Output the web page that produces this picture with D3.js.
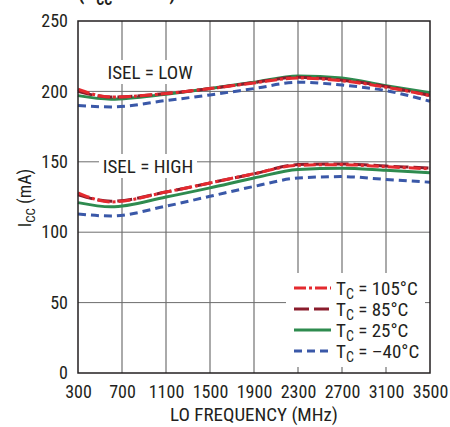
<!DOCTYPE html>
<html><head><meta charset="utf-8">
<script src="https://cdn.jsdelivr.net/npm/d3@7"></script>
<style>
body{margin:0;background:#fff;}
text{font-family:"Liberation Sans Narrow","Roboto Condensed","Arial Narrow","Liberation Sans",sans-serif;fill:#231f20;}
</style></head>
<body><svg id="c" width="450" height="427"></svg>
<script>
const freqs = [300, 600, 1100, 1500, 1900, 2300, 2700, 3100, 3500];
const xTicks = [300, 700, 1100, 1500, 1900, 2300, 2700, 3100, 3500];
const yTicks = [0, 50, 100, 150, 200, 250];
const seriesNames = ["105°C", "85°C", "25°C", "–40°C"];
// ISEL = LOW
const low105 = [201.5, 196, 198.5, 202, 206, 209.5, 207.5, 203, 197];
const low85  = [200, 196, 198.5, 202, 206.3, 210, 208, 203.5, 197];
const low25  = [197, 194.5, 198, 202, 206.5, 211, 209.5, 204, 199];
const lowM40 = [190, 189, 193.5, 197.5, 202, 206.5, 204.5, 200.5, 193];
// ISEL = HIGH
const high105 = [128, 121.5, 128.5, 135, 141.5, 147.5, 148, 146.5, 145];
const high85  = [126.5, 122, 128.5, 135, 141.5, 148, 148.5, 147, 145.5];
const high25  = [121, 118, 125, 131.5, 138.5, 144.5, 145.5, 144, 142.3];
const highM40 = [113, 111.5, 118.5, 125.5, 132.5, 138.5, 139.5, 137.5, 135.5];

const colors = ["#e42a2f", "#8a1c2c", "#2e8b4f", "#3a58a8"];
const dashes = ["12,3,3,3", "15,5", null, "8,5"];

const svg = d3.select("#c");
const L = 78, R = 430, T = 21, B = 373;
const x = d3.scaleLinear().domain([300, 3500]).range([L, R]);
const y = d3.scaleLinear().domain([0, 250]).range([B, T]);

// title fragment (cut off at top, as in the reference)
const ttl = svg.append("text").attr("x", 78).attr("y", 0)
  .style("font-weight", "bold").style("font-size", "20px");
ttl.append("tspan").text("(V");
ttl.append("tspan").attr("dy", 5).style("font-size", "14px").text("CC");
ttl.append("tspan").attr("dy", -5).text(" = 3.3V)");

// grid
svg.append("g").selectAll("line").data(xTicks.slice(1, -1)).join("line")
  .attr("x1", d => x(d)).attr("x2", d => x(d)).attr("y1", T).attr("y2", B)
  .attr("stroke", "#aaa").attr("stroke-width", 2);
svg.append("g").selectAll("line").data(yTicks.slice(1, -1)).join("line")
  .attr("x1", L).attr("x2", R).attr("y1", d => y(d)).attr("y2", d => y(d))
  .attr("stroke", "#6d6d6d").attr("stroke-width", 1);

// label boxes
function label(txt, cx, cy, w) {
  svg.append("rect").attr("x", cx - w / 2).attr("y", cy - 12).attr("width", w).attr("height", 24).attr("fill", "#fff");
  svg.append("text").attr("x", cx).attr("y", cy + 7).attr("text-anchor", "middle")
    .style("font-size", "19px").text(txt);
}
label("ISEL = LOW", 150, 72, 96);
label("ISEL = HIGH", 148, 166, 98);

// lines
const line = d3.line().x((d, i) => x(freqs[i])).y(d => y(d)).curve(d3.curveMonotoneX);
const lowSets = [low105, low85, low25, lowM40];
const highSets = [high105, high85, high25, highM40];
const order = [3, 2, 1, 0];
[highSets, lowSets].forEach(sets => {
  order.forEach(k => {
    svg.append("path").attr("d", line(sets[k])).attr("fill", "none")
      .attr("stroke", colors[k]).attr("stroke-width", 3)
      .attr("stroke-dasharray", dashes[k]);
  });
});

// legend
svg.append("rect").attr("x", 286).attr("y", 273).attr("width", 143).attr("height", 94).attr("fill", "#fff");
const legY = [288, 309, 330, 351];
seriesNames.forEach((n, k) => {
  svg.append("line").attr("x1", 294).attr("x2", 331).attr("y1", legY[k]).attr("y2", legY[k])
    .attr("stroke", colors[k]).attr("stroke-width", 3).attr("stroke-dasharray", dashes[k]);
  const t = svg.append("text").attr("x", 336).attr("y", legY[k] + 7).style("font-size", "19px");
  t.append("tspan").text("T");
  t.append("tspan").attr("dy", 4).style("font-size", "14px").text("C");
  t.append("tspan").attr("dy", -4).text(" = " + n);
});

// bottom ticks (under legend area)
svg.append("g").selectAll("line").data(xTicks.slice(1, -1)).join("line")
  .attr("x1", d => x(d)).attr("x2", d => x(d)).attr("y1", B - 6).attr("y2", B)
  .attr("stroke", "#aaa").attr("stroke-width", 2);
svg.append("g").selectAll("line").data([50]).join("line")
  .attr("x1", R - 5).attr("x2", R).attr("y1", d => y(d)).attr("y2", d => y(d))
  .attr("stroke", "#6d6d6d").attr("stroke-width", 1);

// frame
svg.append("rect").attr("x", L).attr("y", T).attr("width", R - L).attr("height", B - T)
  .attr("fill", "none").attr("stroke", "#231f20").attr("stroke-width", 1.5);

// axes
const xAxis = d3.axisBottom(x).tickValues(xTicks).tickFormat(d3.format("d")).tickSize(0).tickPadding(12);
const gx = svg.append("g").attr("transform", `translate(0,${B})`).call(xAxis);
gx.select(".domain").remove();
gx.selectAll("text").style("font-size", "18px").attr("fill", "#231f20");
const yAxis = d3.axisLeft(y).tickValues(yTicks).tickFormat(d3.format("d")).tickSize(0).tickPadding(10);
const gy = svg.append("g").attr("transform", `translate(${L},0)`).call(yAxis);
gy.select(".domain").remove();
gy.selectAll("text").style("font-size", "18px").attr("fill", "#231f20");

svg.append("text").attr("x", 254).attr("y", 421).attr("text-anchor", "middle")
  .style("font-size", "19px").text("LO FREQUENCY (MHz)");
const yl = svg.append("text").attr("transform", "translate(31,198) rotate(-90)")
  .attr("text-anchor", "middle").style("font-size", "18px");
yl.append("tspan").text("I");
yl.append("tspan").attr("dy", 4).style("font-size", "13px").text("CC");
yl.append("tspan").attr("dy", -4).text(" (mA)");
</script></body></html>
